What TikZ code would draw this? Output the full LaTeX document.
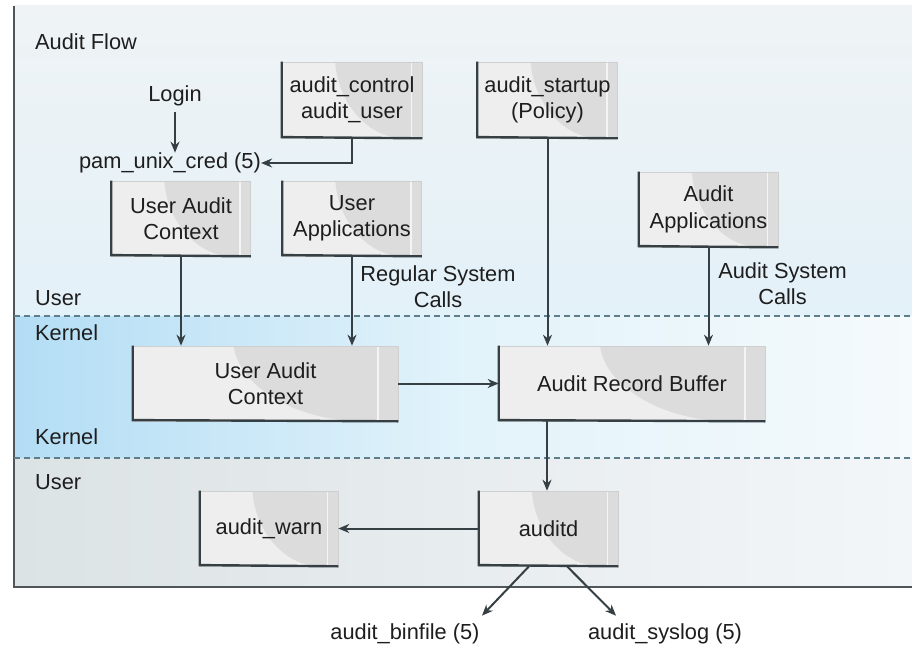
\documentclass[tikz,border=0pt]{standalone}
\usepackage{fontspec}
\setmainfont{Liberation Sans}
\usetikzlibrary{arrows.meta,calc}
\definecolor{txt}{HTML}{1E1E1E}
\definecolor{edgec}{HTML}{363F43}
\definecolor{boxlight}{HTML}{EEEEEE}
\definecolor{boxdark}{HTML}{DCDCDC}
\definecolor{boxrim}{HTML}{CFCFCF}
\definecolor{dashc}{HTML}{5F7E8C}
\definecolor{framec}{HTML}{4F5558}
\definecolor{topT}{HTML}{EFF3F5}
\definecolor{topB}{HTML}{E3F1F8}
\definecolor{kerL}{HTML}{B3DDF5}
\definecolor{kerM}{HTML}{E2F3FA}
\definecolor{kerR}{HTML}{F5FAFC}
\definecolor{usrL}{HTML}{DCE3E5}
\definecolor{usrR}{HTML}{F3F6F8}
\begin{document}
\begin{tikzpicture}[x=1pt,y=-1pt,
  every node/.style={font=\fontsize{21.8}{26.5}\selectfont, text=txt},
  lbl/.style={align=center, inner sep=0pt},
  box/.style={fill=boxlight, draw=boxrim, line width=0.6pt, align=center, inner sep=0pt,
    path picture={
      \coordinate (pA) at (path picture bounding box.north west);
      \coordinate (pB) at (path picture bounding box.south east);
      \fill[boxdark] let \p1=(pA), \p2=(pB) in
        (\x1+0.38*\x2-0.38*\x1, \y1) .. controls (\x1+0.40*\x2-0.40*\x1, 0.45*\y1+0.55*\y2) and (\x1+0.62*\x2-0.62*\x1, \y2) .. (\x1+0.86*\x2-0.86*\x1,\y2) -- (\x2,\y2) -- (\x2,\y1) -- cycle;
      \draw[white, opacity=0.7, line width=1.3pt] let \p1=(pA), \p2=(pB) in
        (\x1+0.925*\x2-0.925*\x1, \y1+6pt) -- (\x1+0.925*\x2-0.925*\x1, \y2);
    }},
  edge1/.style={edgec, line width=2.4pt},
  arr/.style={-{Stealth[length=11pt,width=9pt]}, line width=2pt, draw=edgec},
  sep/.style={dashc, line width=1.1pt, dash pattern=on 6pt off 4pt}
]
\useasboundingbox (0,0) rectangle (912,647);
\fill[white] (0,0) rectangle (912,647);
% background regions
\shade[top color=topT, bottom color=topB] (14,6) rectangle (912,316);
\shade[left color=kerL, right color=kerR, middle color=kerM] (14,316) rectangle (912,458);
\shade[left color=usrL, right color=usrR] (14,458) rectangle (912,587);
\draw[framec, line width=1.8pt] (14,6) -- (14,587) -- (912,587);
\draw[sep] (14,316) -- (912,316);
\draw[sep] (14,458) -- (912,458);

% region labels
\node[lbl, anchor=west] (flow) at (35,42) {Audit Flow};
\node[lbl, anchor=west] (user1) at (35,298) {User};
\node[lbl, anchor=west] (kern1) at (35,333) {Kernel};
\node[lbl, anchor=west] (kern2) at (35,437) {Kernel};
\node[lbl, anchor=west] (user2) at (35,482) {User};

% top nodes
\node[lbl] (login) at (175,96) {Login};
\node[lbl] (pam) at (170,163) {pam\_unix\_cred (5)};
\node[box, minimum width=140pt, minimum height=76pt] (ac) at (352,100) {audit\_control\\audit\_user};
\node[box, minimum width=140pt, minimum height=76pt] (as) at (547.5,100) {audit\_startup\\(Policy)};
\node[box, minimum width=139pt, minimum height=75pt] (uac) at (181,218.5) {User Audit\\Context};
\node[box, minimum width=139pt, minimum height=75pt] (ua) at (352,218.5) {User\\Applications};
\node[box, minimum width=139pt, minimum height=75pt] (aa) at (708.5,209.5) {Audit\\Applications};
\node[lbl] (rsc) at (438,286.5) {Regular System\\Calls};
\node[lbl] (asc) at (782.5,283.5) {Audit System\\Calls};

% kernel nodes
\node[box, minimum width=265pt, minimum height=75pt] (kuac) at (265.5,383.5) {User Audit\\Context};
\node[box, minimum width=266pt, minimum height=75pt] (arb) at (632,383.5) {Audit Record Buffer};

% bottom nodes
\node[box, minimum width=138pt, minimum height=75pt] (warn) at (269,528.5) {audit\_warn};
\node[box, minimum width=139pt, minimum height=75pt] (auditd) at (548.5,528.5) {auditd};
\node[lbl] (bin) at (405,634) {audit\_binfile (5)};
\node[lbl] (sys) at (665,634) {audit\_syslog (5)};

% box edges
\foreach \n in {ac,as,uac,ua,aa,kuac,arb,warn,auditd}{
  \draw[edge1] (\n.north west) -- ([yshift=1.2pt]\n.south west) -- (\n.south east);
}

% connectors
\draw[arr] (login.south) ++(0,6) coordinate (l1) (l1) -- (pam.north -| l1);
\draw[arr] (ac.south) |- (pam.east);
\draw[arr] (uac.south) -- (uac.south |- kuac.north);
\draw[arr] (ua.south) -- (ua.south |- kuac.north);
\draw[arr] (as.south) -- (as.south |- arb.north);
\draw[arr] (aa.south) -- (aa.south |- arb.north);
\draw[arr] (kuac.east) -- (arb.west);
\draw[arr] (arb.south -| auditd.south) ++(-1.5,0) coordinate (a1) (a1) -- (auditd.north -| a1);
\draw[arr] (auditd.west) -- (warn.east);
\draw[arr] ([xshift=-19.5pt]auditd.south) -- ([xshift=77pt,yshift=8pt]bin.north);
\draw[arr] ([xshift=18.5pt]auditd.south) -- ([xshift=-49pt,yshift=8pt]sys.north);
\end{tikzpicture}
\end{document}
